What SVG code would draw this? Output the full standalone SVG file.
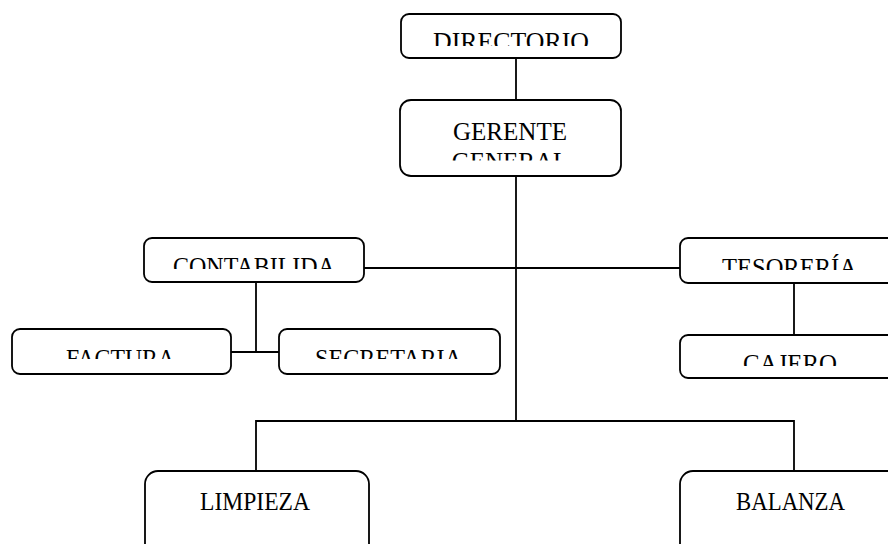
<svg xmlns="http://www.w3.org/2000/svg" width="888" height="544" viewBox="0 0 888 544">
<style>
.box{fill:#fff;stroke:#000;stroke-width:1.8}
.lbl{font-family:"Liberation Serif","Times New Roman",serif;font-size:25px;fill:#000;text-anchor:middle}
.con{stroke:#000;stroke-width:1.8;fill:none}
</style>
<defs>
<clipPath id="c1" clipPathUnits="userSpaceOnUse"><rect x="0" y="0" width="888" height="46"/></clipPath>
<clipPath id="c2" clipPathUnits="userSpaceOnUse"><rect x="0" y="100" width="888" height="60.5"/></clipPath>
<clipPath id="c3" clipPathUnits="userSpaceOnUse"><rect x="0" y="238" width="888" height="31"/></clipPath>
<clipPath id="c4" clipPathUnits="userSpaceOnUse"><rect x="0" y="238" width="888" height="32"/></clipPath>
<clipPath id="c5" clipPathUnits="userSpaceOnUse"><rect x="0" y="335" width="888" height="31"/></clipPath>
<clipPath id="c6" clipPathUnits="userSpaceOnUse"><rect x="0" y="329" width="888" height="30"/></clipPath>
</defs>
<g id="connectors">
<line class="con" x1="516" y1="58" x2="516" y2="100"/>
<line class="con" x1="516" y1="176" x2="516" y2="421"/>
<line class="con" x1="364" y1="268" x2="680" y2="268"/>
<line class="con" x1="256" y1="282" x2="256" y2="352"/>
<line class="con" x1="231" y1="352" x2="279" y2="352"/>
<line class="con" x1="794" y1="283" x2="794" y2="335"/>
<polyline class="con" points="256,471 256,421 794,421 794,471"/>
</g>
<g id="directorio">
<rect class="box" x="401" y="14" width="220" height="44" rx="8"/>
<text class="lbl" x="511" y="49.5" clip-path="url(#c1)" textLength="156" lengthAdjust="spacingAndGlyphs">DIRECTORIO</text>
</g>
<g id="gerente">
<rect class="box" x="400" y="100" width="221" height="76" rx="11"/>
<g clip-path="url(#c2)">
<text class="lbl" x="510" y="139.5" textLength="114" lengthAdjust="spacingAndGlyphs">GERENTE</text>
<text class="lbl" x="510" y="169.5">GENERAL</text>
</g>
</g>
<g id="contabilidad">
<rect class="box" x="144" y="238" width="220" height="44" rx="8"/>
<text class="lbl" x="254" y="274.5" clip-path="url(#c3)" textLength="162" lengthAdjust="spacingAndGlyphs">CONTABILIDA</text>
</g>
<g id="tesoreria">
<rect class="box" x="680" y="238" width="220" height="45" rx="8"/>
<text class="lbl" x="789.5" y="275.5" clip-path="url(#c4)" textLength="135" lengthAdjust="spacingAndGlyphs">TESORERÍA</text>
</g>
<g id="cajero">
<rect class="box" x="680" y="335" width="220" height="43" rx="8"/>
<text class="lbl" x="790" y="371.5" clip-path="url(#c5)" textLength="94" lengthAdjust="spacingAndGlyphs">CAJERO</text>
</g>
<g id="factura">
<rect class="box" x="12" y="329" width="219" height="45" rx="8"/>
<text class="lbl" x="120.5" y="366.5" clip-path="url(#c6)" textLength="109" lengthAdjust="spacingAndGlyphs">FACTURA</text>
</g>
<g id="secretaria">
<rect class="box" x="279" y="329" width="221" height="45" rx="8"/>
<text class="lbl" x="388.5" y="366.5" clip-path="url(#c6)" textLength="147" lengthAdjust="spacingAndGlyphs">SECRETARIA</text>
</g>
<g id="limpieza">
<rect class="box" x="145" y="471" width="224" height="90" rx="13"/>
<text class="lbl" x="255" y="509.5" textLength="110" lengthAdjust="spacingAndGlyphs">LIMPIEZA</text>
</g>
<g id="balanza">
<rect class="box" x="680" y="471" width="222" height="90" rx="13"/>
<text class="lbl" x="790.5" y="509.5" textLength="109" lengthAdjust="spacingAndGlyphs">BALANZA</text>
</g>
</svg>
